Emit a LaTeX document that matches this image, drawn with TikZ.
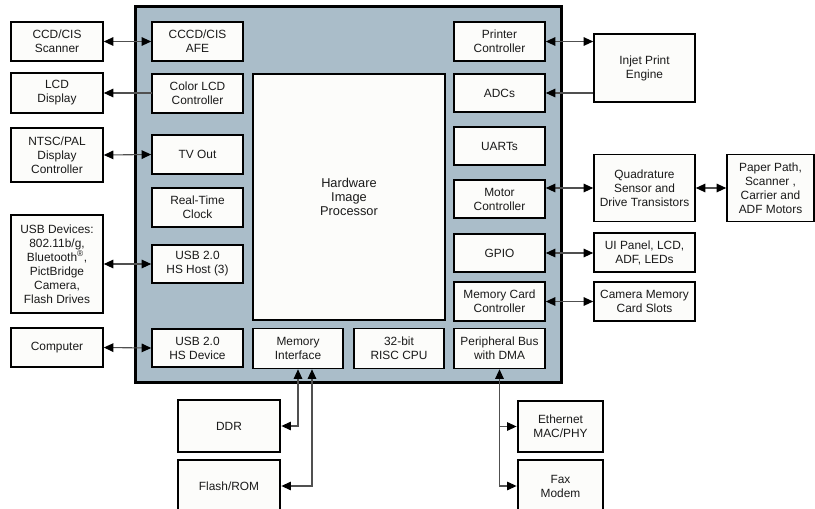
\documentclass[tikz,border=0pt]{standalone}
\usepackage{fontspec}
\setmainfont{Liberation Sans}
\usetikzlibrary{arrows.meta}
\definecolor{chipfill}{HTML}{AABDC9}
\definecolor{boxfill}{HTML}{FCFCFA}
\definecolor{linecol}{HTML}{505050}
\definecolor{txt}{HTML}{1A1A1A}
\tikzset{
  Tri/.tip={Triangle[length=9.5pt,width=8.5pt,color=black]},
  box/.style={draw=black, fill=boxfill, line width=1.6pt, align=center, inner sep=1pt,
    font=\fontsize{11.9}{14}\selectfont, text=txt},
  heavybox/.style={box, line width=2.8pt},
  bi/.style={draw=linecol, line width=1.1pt, Tri-Tri},
  uni/.style={draw=linecol, line width=1.1pt, -Tri}
}
\begin{document}
\begin{tikzpicture}[x=1pt,y=-1pt]
\useasboundingbox (0,0) rectangle (815,509);
\clip (0,0) rectangle (815,509);
\fill[white] (0,0) rectangle (815,509);
% chip
\node[draw=black, line width=3pt, fill=chipfill, minimum width=426pt, minimum height=376pt, inner sep=0pt] (chip) at (348,194) {};
% left inner column
\node[box, minimum width=91pt, minimum height=39pt] (afe) at (197.5,41.5) {CCCD/CIS\\AFE};
\node[box, minimum width=91pt, minimum height=39pt] (lcdc) at (197.5,93.5) {Color LCD\\Controller};
\node[box, minimum width=91pt, minimum height=39pt] (tvout) at (197.5,154.5) {TV Out};
\node[box, minimum width=91pt, minimum height=39pt] (rtc) at (197.5,207.5) {Real-Time\\Clock};
\node[box, minimum width=91pt, minimum height=38pt] (usbh) at (197.5,264) {USB 2.0\\HS Host (3)};
\node[box, minimum width=91pt, minimum height=38pt] (usbd) at (197.5,348) {USB 2.0\\HS Device};
% centre
\node[heavybox, minimum width=192pt, minimum height=246pt, font=\fontsize{12.8}{14}\selectfont] (hip) at (349,197) {Hardware\\Image\\Processor};
\node[box, minimum width=90pt, minimum height=40pt] (memif) at (298,348.5) {Memory\\Interface};
\node[box, minimum width=90pt, minimum height=40pt] (cpu) at (399,348.5) {32-bit\\RISC CPU};
\node[box, minimum width=91pt, minimum height=40pt] (pbus) at (499.5,348.5) {Peripheral Bus\\with DMA};
% right inner column
\node[box, minimum width=91pt, minimum height=39pt] (printer) at (499.5,41.5) {Printer\\Controller};
\node[box, minimum width=91pt, minimum height=38pt] (adc) at (499.5,93) {ADCs};
\node[box, minimum width=91pt, minimum height=38pt] (uart) at (499.5,146) {UARTs};
\node[box, minimum width=91pt, minimum height=38pt] (motor) at (499.5,199) {Motor\\Controller};
\node[box, minimum width=91pt, minimum height=38pt] (gpio) at (499.5,253) {GPIO};
\node[box, minimum width=91pt, minimum height=39pt] (mcc) at (499.5,301.5) {Memory Card\\Controller};
% left external
\node[box, minimum width=92pt, minimum height=39pt] (scanner) at (57,41.5) {CCD/CIS\\Scanner};
\node[box, minimum width=92pt, minimum height=40pt] (lcd) at (57,93) {LCD\\Display};
\node[box, minimum width=92pt, minimum height=54pt] (ntsc) at (57,155) {NTSC/PAL\\Display\\Controller};
\node[box, minimum width=92pt, minimum height=98pt] (usbdev) at (57,264) {USB Devices:\\802.11b/g,\\Bluetooth\textsuperscript{\textregistered},\\PictBridge\\Camera,\\Flash Drives};
\node[box, minimum width=92pt, minimum height=39pt] (computer) at (57,347.5) {Computer};
% right external
\node[box, minimum width=101pt, minimum height=68pt] (injet) at (644.5,68) {Injet Print\\Engine};
\node[box, minimum width=101pt, minimum height=67pt] (quad) at (644.5,188) {Quadrature\\Sensor and\\Drive Transistors};
\node[box, minimum width=87pt, minimum height=67pt] (paper) at (770.5,188) {Paper Path,\\Scanner ,\\Carrier and\\ADF Motors};
\node[box, minimum width=101pt, minimum height=39pt] (ui) at (644.5,252.5) {UI Panel, LCD,\\ADF, LEDs};
\node[box, minimum width=101pt, minimum height=39pt] (cam) at (644.5,301.5) {Camera Memory\\Card Slots};
% bottom external
\node[heavybox, minimum width=102pt, minimum height=52pt] (ddr) at (229,426) {DDR};
\node[heavybox, minimum width=102pt, minimum height=52pt] (flash) at (229,486) {Flash/ROM};
\node[heavybox, minimum width=85pt, minimum height=51pt] (eth) at (560.5,426.5) {Ethernet\\MAC/PHY};
\node[heavybox, minimum width=85pt, minimum height=52pt] (fax) at (560.5,486) {Fax\\Modem};
% left connectors
\draw[bi] (scanner.east) -- (afe.west);
\draw[uni] (lcdc.west) -- (lcd.east -| lcdc.west) -- (lcd.east);
\draw[bi] (ntsc.east) -- (tvout.west);
\draw[bi] (usbdev.east) -- (usbh.west);
\draw[bi] (computer.east) -- (usbd.west);
% right connectors
\draw[bi] (printer.east) -- (printer.east -| injet.west);
\draw[uni] (adc.east -| injet.west) -- (adc.east);
\draw[bi] (quad.west -| motor.east) -- (quad.west);
\draw[bi] (quad.east) -- (paper.west);
\draw[bi] (gpio.east) -- (gpio.east -| ui.west);
\draw[bi] (mcc.east) -- (cam.west);
% bottom connectors
\draw[bi] (memif.south) |- (ddr.east);
\draw[bi] ([xshift=14pt]memif.south) |- (flash.east);
\draw[bi] (pbus.south) |- (fax.west);
\draw[uni] (pbus.south |- eth.west) -- (eth.west);
\end{tikzpicture}
\end{document}
